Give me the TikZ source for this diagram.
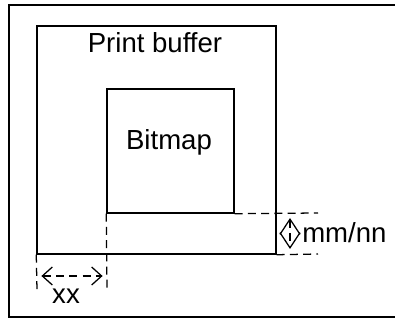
\documentclass[tikz,border=0pt]{standalone}
\usepackage{fontspec}
\setmainfont{Liberation Sans}
\usetikzlibrary{arrows.meta,calc}
\definecolor{ink}{RGB}{0,0,0}

\begin{document}
\begin{tikzpicture}[
    x=0.025cm,y=-0.025cm,
    text=ink,
    every node/.style={font=\fontsize{19.6pt}{23pt}\selectfont},
    box/.style={
        draw=ink,
        line width=1pt,
        inner sep=0pt
    },
    lbl/.style={inner sep=0pt, anchor=base},
    guide/.style={draw=ink, line width=0.9pt, dash pattern=on 0.2cm off 0.13cm},
    barb/.style={guide, {Straight Barb[length=0.25cm,width=0.45cm]}-{Straight Barb[length=0.25cm,width=0.45cm]}},
    dbarb/.style={guide, {Straight Barb[length=0.38cm,width=0.5cm]}-{Straight Barb[length=0.38cm,width=0.5cm]}}
]
\useasboundingbox (0,0) rectangle (395,320);

% Outer frame (right side runs off the page)
\node[box, minimum width=9.8cm, minimum height=7.8cm] (frame) at (205,161) {};

% Print buffer and bitmap
\node[box, minimum width=5.975cm, minimum height=5.7cm] (buffer) at (156.5,140) {};
\node[box, minimum width=3.175cm, minimum height=3.1cm] (bitmap) at (170.5,151) {};
\node[lbl] (buflbl) at (155,53) {Print buffer};
\node[lbl] (bmplbl) at (169,150) {Bitmap};

% Guide ends
\coordinate (xl) at (37,290);
\coordinate (xr) at (107,290);
\coordinate (mt) at (318,213);
\coordinate (mb) at (318,254);

% Dashed guides
\draw[guide] (buffer.south west) -- (xl);
\draw[guide] (bitmap.south west) -- (xr);
\draw[guide] (bitmap.south east) -- (mt);
\draw[guide] (buffer.south east) -- (mb);

% Horizontal offset
\coordinate (xa) at (37,276);
\coordinate (xb) at (107,276);
\draw[barb, shorten <=0.11cm, shorten >=0.11cm] (xa) -- (xb);
\node[lbl] (xx) at (66,304) {xx};

% Vertical offset
\coordinate (ma) at (290,213);
\coordinate (mz) at (290,254);
\draw[dbarb, shorten <=0.125cm, shorten >=0.125cm] (ma) -- (mz);
\node[lbl, anchor=base west] (mmnn) at (302,243) {mm/nn};

\end{tikzpicture}
\end{document}
